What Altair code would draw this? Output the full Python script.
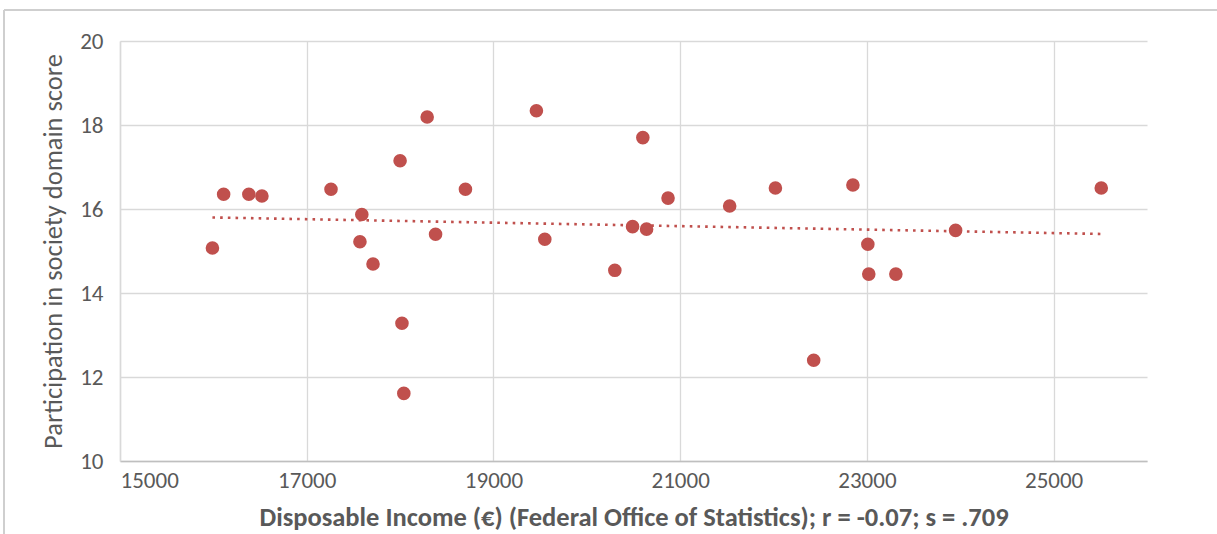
import altair as alt
import pandas as pd

# Disposable income per region (EUR) and participation-in-society domain score
income = [15990, 16110, 16380, 16520, 17260, 17590, 17570, 17710, 18000, 18020,
          18040, 18290, 18380, 18700, 19460, 19550, 20300, 20600, 20490, 20640,
          20870, 21530, 22020, 22430, 22850, 23010, 23020, 23310, 23950, 25510]
score = [15.07, 16.35, 16.35, 16.31, 16.47, 15.87, 15.22, 14.69, 17.15, 13.28,
         11.61, 18.19, 15.40, 16.47, 18.34, 15.28, 14.54, 17.70, 15.58, 15.52,
         16.26, 16.07, 16.50, 12.40, 16.57, 15.16, 14.45, 14.45, 15.49, 16.50]

x_ticks = [15000, 17000, 19000, 21000, 23000, 25000]
y_ticks = [10, 12, 14, 16, 18, 20]

df = pd.DataFrame({"income": income, "score": score})

RED = "#C0504D"
GRID = "#D9D9D9"
TEXT = "#595959"
FONT = "Carlito, Liberation Sans Narrow, Open Sans, sans-serif"

x_enc = alt.X(
    "income:Q",
    scale=alt.Scale(domain=[15000, 26000], nice=False, zero=False),
    axis=alt.Axis(values=x_ticks, title="Disposable  Income (€) (Federal Office of Statistics); r = -0.07; s = .709",
                  titleFontWeight="bold", titleFontSize=26.5, titlePadding=12,
                  labelFontSize=23, labelPadding=8, format="d"),
)
y_enc = alt.Y(
    "score:Q",
    scale=alt.Scale(domain=[10, 20], nice=False, zero=False),
    axis=alt.Axis(values=y_ticks, title="Participation in society domain score",
                  titleFontWeight="normal", titleFontSize=26.5, titlePadding=12,
                  labelFontSize=23, labelPadding=17),
)

points = alt.Chart(df).mark_circle(size=185, color=RED, opacity=1).encode(x=x_enc, y=y_enc)

trend = alt.Chart(df).transform_regression("income", "score").mark_line(
    color=RED, strokeWidth=2.6, strokeDash=[2.6, 5.1]
).encode(x="income:Q", y="score:Q")

# thin frame around the figure panel
frame_top = alt.Chart(df).mark_rule(color="#CFCFCF", strokeWidth=1.5).encode(
    x=alt.value(-116), x2=alt.value(1100), y=alt.value(-31))
frame_left = alt.Chart(df).mark_rule(color="#CFCFCF", strokeWidth=1.5).encode(
    x=alt.value(-116), y=alt.value(-31), y2=alt.value(500))

chart = alt.layer(trend, points, frame_top, frame_left).properties(
    width=1027, height=420,
    autosize=alt.AutoSizeParams(type="none"),
    padding={"left": 120, "top": 41, "right": 70, "bottom": 73},
).configure_axis(
    grid=True, gridColor=GRID, gridWidth=1.3,
    domainColor="#BFBFBF", domainWidth=1.5,
    ticks=False,
    labelColor=TEXT, titleColor=TEXT, labelFont=FONT, titleFont=FONT,
).configure_axisY(domainColor=GRID).configure_view(stroke=None)

chart.save("out.html", embed_options={"renderer": "svg", "actions": False})
